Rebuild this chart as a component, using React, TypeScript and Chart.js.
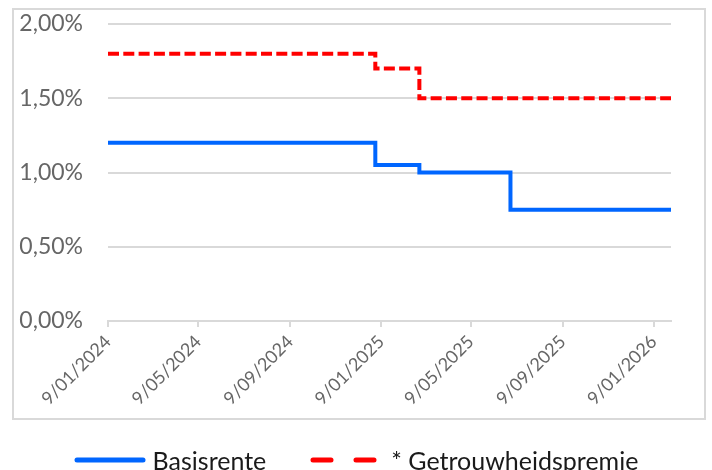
import React, { useEffect, useRef } from "react";
import { Chart, registerables } from "chart.js";

Chart.register(...registerables);

const basisDates = ["2024-01-09", "2025-01-01", "2025-03-01", "2025-07-01", "2026-02-01"];
const basisValues = [1.2, 1.05, 1.0, 0.75, 0.75];
const premieDates = ["2024-01-09", "2025-01-01", "2025-03-01", "2026-02-01"];
const premieValues = [1.8, 1.7, 1.5, 1.5];
const xTickDates = ["2024-01-09", "2024-05-09", "2024-09-09", "2025-01-09", "2025-05-09", "2025-09-09", "2026-01-09"];
const yTickValues = [0, 0.5, 1.0, 1.5, 2.0];
const seriesNames = ["Basisrente", "* Getrouwheidspremie"];

const toDay = (s: string) => {
  const [y, m, d] = s.split("-").map(Number);
  return Date.UTC(y, m - 1, d) / 86400000;
};
const fmtDay = (v: number) => {
  const dt = new Date(v * 86400000);
  return `${dt.getUTCDate()}/${String(dt.getUTCMonth() + 1).padStart(2, "0")}/${dt.getUTCFullYear()}`;
};

const BLUE = "#0066FF";
const RED = "#FF0000";
const GRID = "#d9d9d9";
const TEXT = "#666666";

export default function App() {
  const ref = useRef<HTMLCanvasElement | null>(null);
  useEffect(() => {
    if (!ref.current) return;
    const allDates = [...basisDates, ...premieDates].map(toDay);
    const chart = new Chart(ref.current, {
      type: "line",
      data: {
        datasets: [
          {
            label: seriesNames[0],
            data: basisDates.map((d, i) => ({ x: toDay(d), y: basisValues[i] })),
            borderColor: BLUE,
            backgroundColor: BLUE,
            borderWidth: 4,
            pointRadius: 0,
            stepped: "before",
            fill: false,
          },
          {
            label: seriesNames[1],
            data: premieDates.map((d, i) => ({ x: toDay(d), y: premieValues[i] })),
            borderColor: RED,
            backgroundColor: RED,
            borderWidth: 4,
            borderDash: [11, 4.3],
            pointRadius: 0,
            stepped: "before",
            fill: false,
          },
        ],
      },
      options: {
        animation: false,
        responsive: false,
        maintainAspectRatio: false,
        layout: { padding: { left: 0, top: 24, right: 41, bottom: 0 } },
        plugins: { legend: { display: false }, tooltip: { enabled: false } },
        scales: {
          x: {
            type: "linear",
            min: Math.min(...allDates),
            max: Math.max(...allDates),
            afterBuildTicks: (scale: any) => {
              scale.ticks = xTickDates.map((d) => ({ value: toDay(d) }));
            },
            afterFit: (scale: any) => {
              scale.height = 149;
            },
            grid: { drawOnChartArea: false, drawTicks: true, tickLength: 6, color: GRID, lineWidth: 2 },
            border: { display: true, color: GRID, width: 2 },
            ticks: {
              autoSkip: false,
              maxRotation: 45,
              minRotation: 45,
              padding: 4,
              color: TEXT,
              font: { family: "Lato", size: 18 },
              callback: (v: any) => fmtDay(Number(v)),
            },
          },
          y: {
            min: 0,
            max: 2,
            afterBuildTicks: (scale: any) => {
              scale.ticks = yTickValues.map((v) => ({ value: v }));
            },
            afterFit: (scale: any) => {
              scale.width = 108;
            },
            grid: { drawTicks: true, tickLength: 25, tickColor: "rgba(0,0,0,0)", color: GRID, lineWidth: 2 },
            border: { display: false },
            ticks: {
              padding: 0,
              color: TEXT,
              font: { family: "Lato", size: 23 },
              callback: (v: any) => Number(v).toFixed(2).replace(".", ",") + "%",
            },
          },
        },
      },
    } as any);
    return () => chart.destroy();
  }, []);

  return (
    <div style={{ position: "absolute", left: 0, top: 0, width: 712, height: 470, background: "#fff", overflow: "hidden" }}>
      <canvas ref={ref} width={712} height={470} style={{ position: "absolute", left: 0, top: 0, display: "block" }} />
      <div
        style={{
          position: "absolute",
          left: 12,
          top: 8,
          width: 694,
          height: 412,
          border: `2px solid ${GRID}`,
          boxSizing: "border-box",
          pointerEvents: "none",
        }}
      />
      <div
        style={{
          position: "absolute",
          left: 0,
          width: 712,
          top: 444,
          height: 32,
          display: "flex",
          alignItems: "center",
          justifyContent: "center",
          fontFamily: "Lato",
          fontSize: 25,
          color: "#1a1a1a",
        }}
      >
        <svg width={72} height={8} style={{ marginRight: 7 }}>
          <line x1={3} y1={4} x2={69} y2={4} stroke={BLUE} strokeWidth={5} strokeLinecap="round" />
        </svg>
        <span>{seriesNames[0]}</span>
        <svg width={67} height={8} style={{ marginLeft: 44, marginRight: 14 }}>
          <line x1={3} y1={4} x2={64} y2={4} stroke={RED} strokeWidth={5} strokeLinecap="round" strokeDasharray="18 25" />
        </svg>
        <span>{seriesNames[1]}</span>
      </div>
    </div>
  );
}
